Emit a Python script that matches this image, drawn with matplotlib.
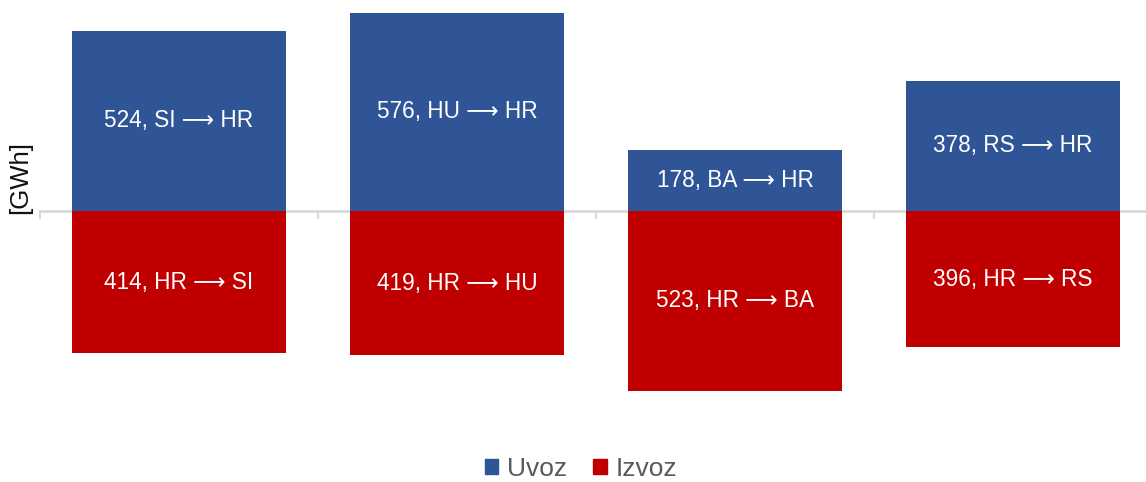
import matplotlib
matplotlib.use("Agg")
import matplotlib.pyplot as plt
from matplotlib.patches import Patch

plt.rcParams['font.family'] = ['Liberation Sans', 'DejaVu Sans']

countries = ["SI", "HU", "BA", "RS"]
uvoz = [524, 576, 178, 378]
izvoz = [414, 419, 523, 396]

BLUE = "#2F5597"
RED = "#C00000"

fig = plt.figure(figsize=(11.46, 4.82), dpi=100)
ax = fig.add_axes([40/1146, 52/482, 1 - 40/1146, 1 - 52/482])

x = list(range(len(countries)))
w = 214/278
ax.bar(x, uvoz, width=w, color=BLUE, zorder=2)
ax.bar(x, [-v for v in izvoz], width=w, color=RED, zorder=2)

ARROW = " \u27f6 "
for i, c in enumerate(countries):
    ax.text(i, uvoz[i]/2, f"{uvoz[i]}, {c}{ARROW}HR", ha="center", va="center",
            color="white", fontsize=16.3, zorder=3)
    ax.text(i, -izvoz[i]/2, f"{izvoz[i]}, HR{ARROW}{c}", ha="center", va="center",
            color="white", fontsize=16.3, zorder=3)

ax.set_xlim(-0.5, 3.5 - 6/278)
ax.set_ylim(-(430-211)/0.344, 211/0.344)
ax.axhline(0, color="#d9d9d9", lw=2, zorder=1)
for t in [-0.5, 0.5, 1.5, 2.5]:
    ax.plot([t, t], [0, -20], color="#d9d9d9", lw=1.5, zorder=1, clip_on=False)

for s in ax.spines.values():
    s.set_visible(False)
ax.set_xticks([])
ax.set_yticks([])

fig.text(20/1146, 1 - 177/482, "[GWh]", rotation=90, ha="center", va="center",
         fontsize=18.5, color="#111111")

handles = [Patch(color=BLUE, label="Uvoz"), Patch(color=RED, label="Izvoz")]
leg = fig.legend(handles=handles, loc="center", bbox_to_anchor=(581/1146, 1 - 469/482),
                 ncol=2, frameon=False, fontsize=19, handlelength=0.5, handleheight=0.5,
                 handletextpad=0.35, columnspacing=1.0)
for t in leg.get_texts():
    t.set_color("#595959")

fig.savefig("out.png", dpi=100)
